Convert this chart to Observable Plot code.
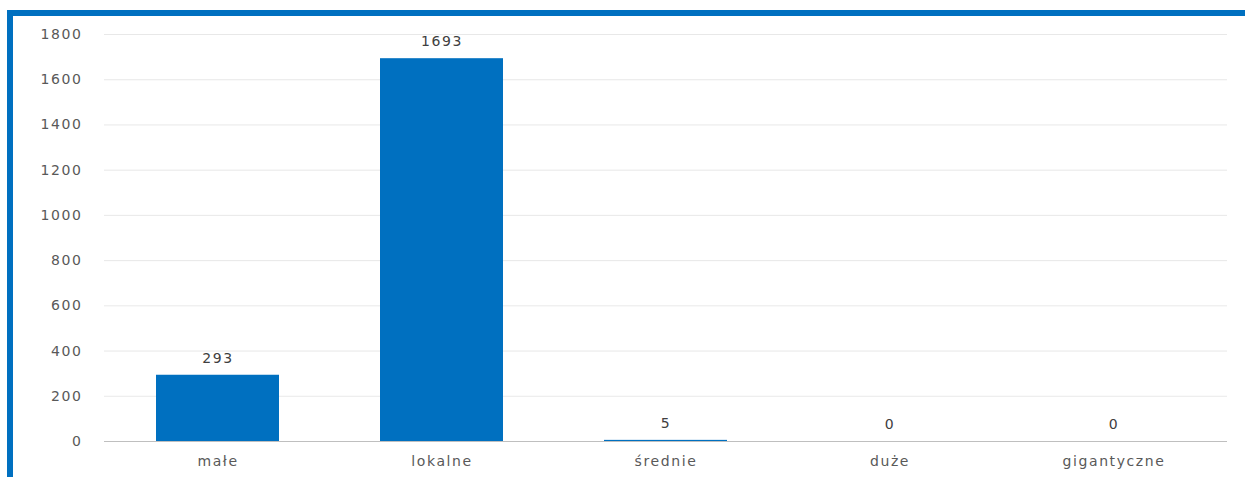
<!DOCTYPE html>
<html>
<head>
<meta charset="utf-8">
<script src="https://cdn.jsdelivr.net/npm/d3@7"></script>
<script src="https://cdn.jsdelivr.net/npm/@observablehq/plot@0.6"></script>
<style>
  html, body { margin: 0; padding: 0; background: #fff; }
  #wrap { position: relative; width: 1245px; height: 477px; overflow: hidden; }
  #frame { position: absolute; left: 7px; top: 10px; width: 1245px; height: 480px;
           border-top: 6px solid #0070c0; border-left: 6px solid #0070c0; box-sizing: border-box; }
  #chart { position: absolute; left: 0; top: 0; }
  #chart text { letter-spacing: 1.6px; }
</style>
</head>
<body>
<div id="wrap"><div id="chart"></div><div id="frame"></div></div>
<script>
const categories = ["małe", "lokalne", "średnie", "duże", "gigantyczne"];
const values = [293, 1693, 5, 0, 0];
const yTicks = [0, 200, 400, 600, 800, 1000, 1200, 1400, 1600, 1800];

const data = categories.map((c, i) => ({ category: c, value: values[i] }));

const chart = Plot.plot({
  width: 1245,
  height: 477,
  marginLeft: 104,
  marginRight: 18,
  marginTop: 34,
  marginBottom: 36,
  style: { fontFamily: "'DejaVu Sans', sans-serif", fontSize: "14px", color: "#595959", background: "transparent" },
  x: { domain: categories, paddingInner: 0.45, paddingOuter: 0.225, label: null, tickSize: 0, tickPadding: 15 },
  y: { domain: [0, 1800], ticks: yTicks, tickFormat: "d", label: null, tickSize: 0, tickPadding: 22 },
  marks: [
    Plot.gridY(yTicks, { stroke: "#d9d9d9", strokeOpacity: 0.6 }),
    Plot.barY(data, { x: "category", y: "value", fill: "#0070c0" }),
    Plot.ruleY([0], { stroke: "#bfbfbf", strokeWidth: 1 }),
    Plot.text(data, { x: "category", y: "value", text: d => String(d.value), dy: -17, fill: "#404040", fontSize: 14 })
  ]
});
document.getElementById("chart").appendChild(chart);
</script>
</body>
</html>
